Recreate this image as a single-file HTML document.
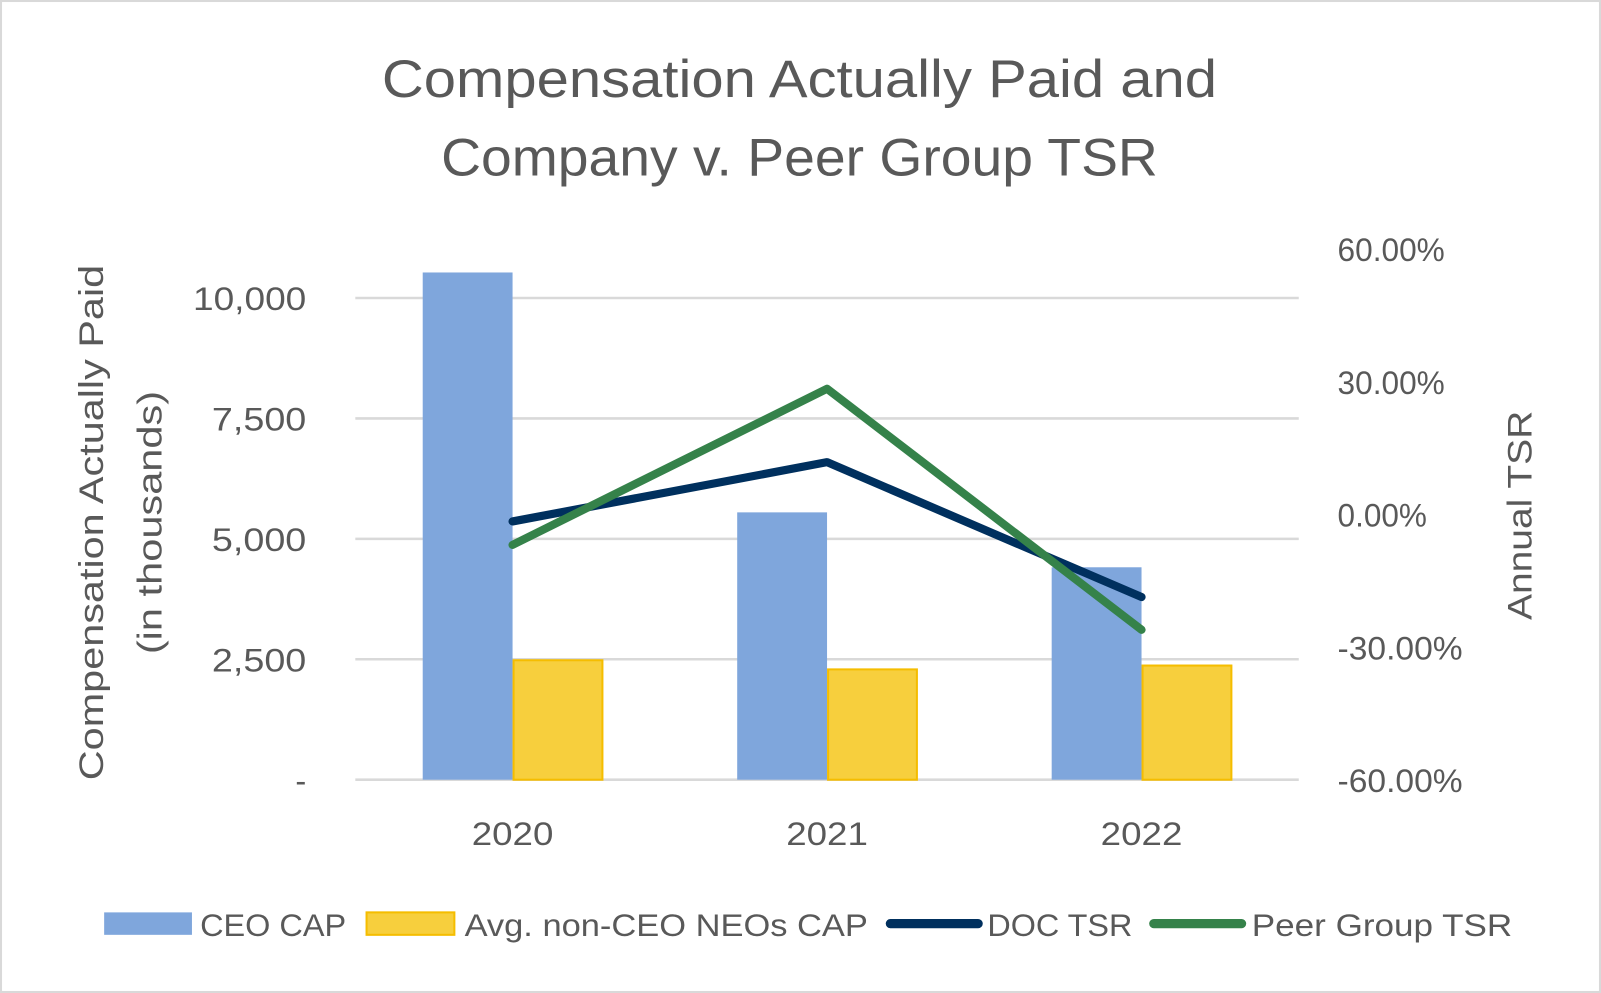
<!DOCTYPE html>
<html><head><meta charset="utf-8"><style>
html,body{margin:0;padding:0;background:#fff}
svg{display:block}
text{font-family:"Liberation Sans",sans-serif;fill:#595959}
</style></head><body>
<svg width="1601" height="993" viewBox="0 0 1568 973" preserveAspectRatio="none" xmlns="http://www.w3.org/2000/svg">
<rect x="1" y="1" width="1566" height="971" fill="#fff" stroke="#d9d9d9" stroke-width="2"/>
<text x="783" y="95" font-size="52" text-anchor="middle" textLength="818" lengthAdjust="spacingAndGlyphs">Compensation Actually Paid and</text>
<text x="783" y="172" font-size="52" text-anchor="middle" textLength="702" lengthAdjust="spacingAndGlyphs">Company v. Peer Group TSR</text>
<g id="grid"></g>
<g id="bars"></g>
<g id="lines"></g>
<g id="axes"></g>
<text transform="translate(101,512) rotate(-90)" font-size="34" text-anchor="middle" textLength="505" lengthAdjust="spacingAndGlyphs">Compensation Actually Paid</text>
<text transform="translate(158,512) rotate(-90)" font-size="34" text-anchor="middle" textLength="258" lengthAdjust="spacingAndGlyphs">(in thousands)</text>
<text transform="translate(1500,505) rotate(-90)" font-size="34" text-anchor="middle" textLength="205" lengthAdjust="spacingAndGlyphs">Annual TSR</text>
<g>
<rect x="102" y="894" width="86" height="22" fill="#7fa6dc"/>
<text x="196" y="917" font-size="31" textLength="143" lengthAdjust="spacingAndGlyphs">CEO CAP</text>
<rect x="359" y="894" width="86" height="22" fill="#f7cf3d" stroke="#f5bd00" stroke-width="2"/>
<text x="455" y="917" font-size="31" textLength="395" lengthAdjust="spacingAndGlyphs">Avg. non-CEO NEOs CAP</text>
<line x1="872" y1="905" x2="958" y2="905" stroke="#00305e" stroke-width="9" stroke-linecap="round"/>
<text x="967" y="917" font-size="31" textLength="142" lengthAdjust="spacingAndGlyphs">DOC TSR</text>
<line x1="1130" y1="905" x2="1216" y2="905" stroke="#35824a" stroke-width="9" stroke-linecap="round"/>
<text x="1226" y="917" font-size="31" textLength="255" lengthAdjust="spacingAndGlyphs">Peer Group TSR</text>
</g>
</svg>
<script>
const categories = ['2020','2021','2022'];
const ceoCap = [10530, 5550, 4410];
const neoCap = [2480, 2290, 2370];
const docTsr = [-1.6, 11.8, -18.7];
const peerTsr = [-6.9, 28.4, -26.1];
const leftTicks = [0, 2500, 5000, 7500, 10000];
const leftTickLabels = ['-', '2,500', '5,000', '7,500', '10,000'];
const rightTicks = [-60, -30, 0, 30, 60];
const rightTickLabels = ['-60.00%', '-30.00%', '0.00%', '30.00%', '60.00%'];

const NS = 'http://www.w3.org/2000/svg';
const plotL = 348, plotR = 1272, base = 764;
const yL = v => base - v / 2500 * 118;
const yR = v => base - (v + 60) / 30 * 130;
const band = (plotR - plotL) / categories.length;
const xC = i => plotL + band * (i + 0.5);
function mk(tag, attrs, parent) { const e = document.createElementNS(NS, tag); for (const k in attrs) e.setAttribute(k, attrs[k]); parent.appendChild(e); return e; }
const grid = document.getElementById('grid'), bars = document.getElementById('bars'), lines = document.getElementById('lines'), axes = document.getElementById('axes');
leftTicks.forEach((t, i) => {
  const l = mk('line', {x1: plotL, x2: plotR, y1: yL(t), y2: yL(t), stroke: '#d9d9d9', 'stroke-width': 2.5}, grid);
  
  
  const tx = mk('text', {x: 300, y: yL(t) + 12, 'font-size': 32, 'text-anchor': 'end'}, axes);
  if (leftTickLabels[i].length > 1) { tx.setAttribute('textLength', leftTickLabels[i].length * 18.5); tx.setAttribute('lengthAdjust', 'spacingAndGlyphs'); }
  tx.textContent = leftTickLabels[i];
  
  
});
rightTicks.forEach((t, i) => {
  const tx = mk('text', {x: 1310, y: yR(t) + 12, 'font-size': 32, textLength: rightTickLabels[i].length * 17.5, lengthAdjust: 'spacingAndGlyphs'}, axes);
  tx.textContent = rightTickLabels[i];
  
  
});
const bw = 88;
categories.forEach((c, i) => {
  const b1 = mk('rect', {x: xC(i) - bw, y: yL(ceoCap[i]), width: bw, height: base - yL(ceoCap[i]), fill: '#7fa6dc'}, bars);
  
  
  const b2 = mk('rect', {x: xC(i) + 1, y: yL(neoCap[i]), width: bw - 1, height: base - yL(neoCap[i]), fill: '#f7cf3d', stroke: '#f5bd00', 'stroke-width': 2}, bars);
  
  
  const tx = mk('text', {x: xC(i), y: 828, 'font-size': 32, 'text-anchor': 'middle', textLength: 80, lengthAdjust: 'spacingAndGlyphs'}, axes);
  tx.textContent = c;
  
  
});
function drawLine(vals, color, name) {
  const p = mk('polyline', {points: vals.map((v, i) => xC(i) + ',' + yR(v)).join(' '), fill: 'none', stroke: color, 'stroke-width': 8, 'stroke-linecap': 'round', 'stroke-linejoin': 'round'}, lines);
  
  
}
drawLine(docTsr, '#00305e', 'line-doc-tsr');
drawLine(peerTsr, '#35824a', 'line-peer-tsr');
</script>
</body></html>
